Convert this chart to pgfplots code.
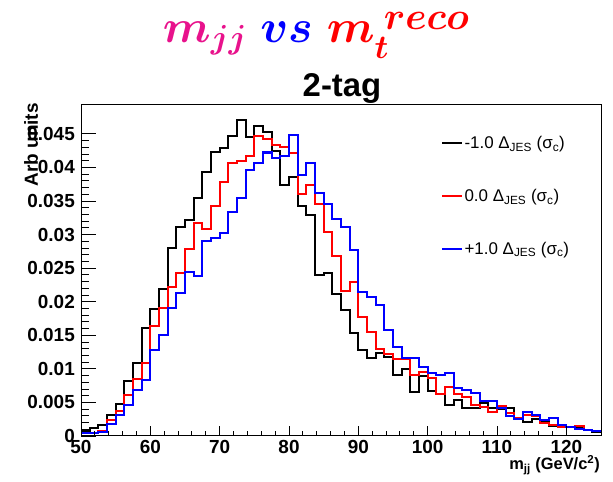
\documentclass[border=0pt]{standalone}
\usepackage{graphicx}
\usepackage{pgfplots}
\pgfplotsset{compat=1.18}
\usepackage{pgfplotstable}
\usepackage{fontspec}
\setmainfont{Liberation Sans}
\definecolor{titlepink}{RGB}{232,18,140}

% Normalised m_jj distributions, 1.25 GeV bins from 50 to 125 (left edges)
\pgfplotstableread{
x y
50.00 0.00079
51.25 0.00114
52.50 0.00164
53.75 0.00318
55.00 0.00471
56.25 0.00814
57.50 0.01087
58.75 0.01613
60.00 0.01891
61.25 0.02189
62.50 0.02804
63.75 0.03117
65.00 0.03221
66.25 0.03539
67.50 0.03936
68.75 0.04233
70.00 0.04283
71.25 0.04467
72.50 0.04705
73.75 0.04447
75.00 0.04616
76.25 0.04526
77.50 0.04248
78.75 0.03742
80.00 0.03851
81.25 0.03429
82.50 0.03290
83.75 0.02392
85.00 0.02432
86.25 0.02114
87.50 0.01876
88.75 0.01529
90.00 0.01280
91.25 0.01165
92.50 0.01241
93.75 0.01171
95.00 0.00908
96.25 0.01003
97.50 0.00650
98.75 0.00893
100.00 0.00670
101.25 0.00625
102.50 0.00462
103.75 0.00536
105.00 0.00422
106.25 0.00422
107.50 0.00496
108.75 0.00412
110.00 0.00402
111.25 0.00412
112.50 0.00263
113.75 0.00213
115.00 0.00248
116.25 0.00213
117.50 0.00149
118.75 0.00149
120.00 0.00139
121.25 0.00114
122.50 0.00089
123.75 0.00065
125.00 0.00065
}\jesminus

\pgfplotstableread{
x y
50.00 0.00040
51.25 0.00050
52.50 0.00080
53.75 0.00238
55.00 0.00372
56.25 0.00606
57.50 0.00854
58.75 0.01087
60.00 0.01638
61.25 0.01901
62.50 0.02223
63.75 0.02427
65.00 0.02789
66.25 0.03171
67.50 0.03082
68.75 0.03420
70.00 0.03777
71.25 0.04070
72.50 0.04100
73.75 0.04174
75.00 0.04467
76.25 0.04427
77.50 0.04328
78.75 0.04308
80.00 0.04214
81.25 0.03598
82.50 0.03742
83.75 0.03449
85.00 0.03037
86.25 0.02685
87.50 0.02159
88.75 0.02293
90.00 0.01777
91.25 0.01553
92.50 0.01290
93.75 0.01216
95.00 0.01146
96.25 0.01141
97.50 0.00908
98.75 0.00948
100.00 0.00869
101.25 0.00625
102.50 0.00735
103.75 0.00620
105.00 0.00586
106.25 0.00462
107.50 0.00437
108.75 0.00362
110.00 0.00447
111.25 0.00347
112.50 0.00263
113.75 0.00313
115.00 0.00298
116.25 0.00189
117.50 0.00164
118.75 0.00139
120.00 0.00129
121.25 0.00149
122.50 0.00089
123.75 0.00074
125.00 0.00074
}\jesnominal

\pgfplotstableread{
x y
50.00 0.00040
51.25 0.00050
52.50 0.00065
53.75 0.00179
55.00 0.00308
56.25 0.00457
57.50 0.00680
58.75 0.00839
60.00 0.01280
61.25 0.01504
62.50 0.01901
63.75 0.02124
65.00 0.02442
66.25 0.02387
67.50 0.02908
68.75 0.02943
70.00 0.03027
71.25 0.03330
72.50 0.03548
73.75 0.03960
75.00 0.04060
76.25 0.04223
77.50 0.04134
78.75 0.04169
80.00 0.04482
81.25 0.03881
82.50 0.04070
83.75 0.03623
85.00 0.03449
86.25 0.03231
87.50 0.03117
88.75 0.02769
90.00 0.02149
91.25 0.02075
92.50 0.01950
93.75 0.01578
95.00 0.01330
96.25 0.01156
97.50 0.01166
98.75 0.01032
100.00 0.00943
101.25 0.00908
102.50 0.00933
103.75 0.00710
105.00 0.00685
106.25 0.00635
107.50 0.00521
108.75 0.00521
110.00 0.00422
111.25 0.00298
112.50 0.00248
113.75 0.00362
115.00 0.00313
116.25 0.00238
117.50 0.00263
118.75 0.00164
120.00 0.00139
121.25 0.00099
122.50 0.00089
123.75 0.00074
125.00 0.00074
}\jesplus

\newcommand{\ticklabelfont}{\fontsize{19}{22}\selectfont\bfseries}

% large coloured headline with roomy sub- and superscripts
\newcommand{\headline}{%
  {\color{titlepink}$m$\raisebox{-0.12em}{\scalebox{0.72}{$jj$}}}\hspace{0.3em}%
  {\color{blue}$vs$}\hspace{0.3em}%
  {\color{red}$m$%
   \makebox[0pt][l]{\hspace{0.2em}\raisebox{0.29em}{\scalebox{0.83}{$reco$}}}%
   \makebox[0pt][l]{\raisebox{-0.34em}{\scalebox{0.72}{$t$}}}%
   \hphantom{\hspace{0.2em}\scalebox{0.83}{$reco$}}}}

\begin{document}
\begin{tikzpicture}[x=1bp,y=1bp]
\path[use as bounding box] (0,0) rectangle (613,482);

% main frame: data, y ticks, legend
\begin{axis}[
  at={(81bp,46bp)}, anchor=south west,
  width=520bp, height=331bp, scale only axis,
  xmin=50, xmax=125, ymin=0, ymax=0.0493,
  axis line style={line width=1bp},
  tick pos=left, tick align=inside,
  xtick=\empty,
  ytick={0,0.005,0.01,0.015,0.02,0.025,0.03,0.035,0.04,0.045},
  yticklabels={0,0.005,0.01,0.015,0.02,0.025,0.03,0.035,0.04,0.045},
  minor y tick num=4,
  major tick length=15bp, minor tick length=7.5bp,
  tick style={line width=0.9bp, black},
  yticklabel style={font=\ticklabelfont, inner sep=0pt, xshift=-6bp},
  scaled y ticks=false,
  clip=true,
  legend style={draw=none, fill=none, at={(0.692,0.91)}, anchor=north west,
    font=\fontsize{17}{20}\selectfont, row sep=36bp, inner sep=0pt,
    nodes={inner sep=1.5bp}},
  legend cell align=left,
  legend image code/.code={\draw[#1, line width=2bp] (0bp,0bp) -- (20bp,0bp);},
]
\addplot[const plot, black, line width=2.1bp] table[x=x,y=y] {\jesminus};
\addlegendentry{-1.0 Δ\textsubscript{JES} (σ\textsubscript{c})}
\addplot[const plot, red, line width=2.1bp] table[x=x,y=y] {\jesnominal};
\addlegendentry{0.0 Δ\textsubscript{JES} (σ\textsubscript{c})}
\addplot[const plot, blue, line width=2.1bp] table[x=x,y=y] {\jesplus};
\addlegendentry{+1.0 Δ\textsubscript{JES} (σ\textsubscript{c})}
\end{axis}

% x ticks drawn with shorter tick marks
\begin{axis}[
  at={(81bp,46bp)}, anchor=south west,
  width=520bp, height=331bp, scale only axis,
  xmin=50, xmax=125, ymin=0, ymax=0.0493,
  axis line style={line width=1bp},
  tick pos=left, tick align=inside,
  ytick=\empty,
  xtick={50,60,70,80,90,100,110,120},
  xticklabels={50,60,70,80,90,100,110,120},
  minor x tick num=4,
  major tick length=10bp, minor tick length=5bp,
  tick style={line width=0.9bp, black},
  xticklabel style={font=\ticklabelfont, inner sep=0pt, yshift=-4bp},
]
\end{axis}

% axis titles
\node[rotate=90, anchor=east, inner sep=0pt, font=\fontsize{19}{22}\selectfont\bfseries]
  at (31,379) {Arb units};
\node[anchor=base east, inner sep=0pt, font=\fontsize{16.5}{20}\selectfont\bfseries]
  at (600,12) {m\textsubscript{jj} (GeV/c\textsuperscript{2})};

% titles
\node[anchor=base, inner sep=0pt, font=\fontsize{33}{36}\selectfont\bfseries]
  at (342,385) {2-tag};
\node[anchor=base, inner sep=0pt]
  at (316,439) {\scalebox{1.87}{\Huge\boldmath\headline}};
\end{tikzpicture}
\end{document}
